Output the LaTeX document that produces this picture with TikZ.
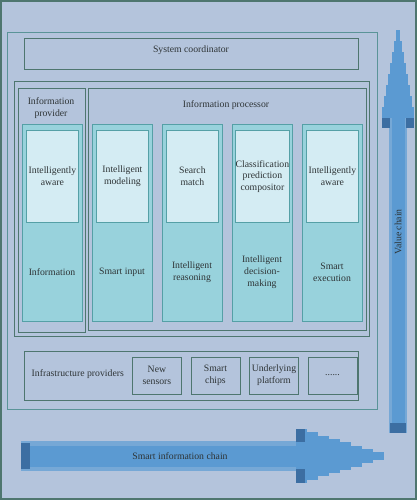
\documentclass[tikz,border=0pt]{standalone}
\usepackage{fontspec}
\setmainfont{Liberation Serif}
\usetikzlibrary{positioning, fit}

\definecolor{bgblue}{HTML}{B4C4DC}
\definecolor{framegreen}{HTML}{4E766F}
\definecolor{frameteal}{HTML}{5A9498}
\definecolor{colteal}{HTML}{98D2DC}
\definecolor{colpale}{HTML}{D4ECF3}
\definecolor{coledge}{HTML}{55A0A6}
\definecolor{chainblue}{HTML}{5B9AD2}
\definecolor{chainpale}{HTML}{76A8D6}
\definecolor{chaindark}{HTML}{3C6EA2}
\definecolor{textgrey}{HTML}{2E3436}

\begin{document}
\begin{tikzpicture}[x=0.75pt,y=-0.75pt,font=\fontsize{7.3}{8.8}\selectfont,text=textgrey,
        frame/.style={draw=framegreen,line width=0.65pt,inner sep=0pt},
        colbox/.style={fill=colteal,draw=coledge,line width=0.65pt,inner sep=0pt,minimum width=45pt,minimum height=147.75pt,anchor=north west},
        tophalf/.style={fill=colpale,draw=coledge,line width=0.65pt,inner sep=0pt,minimum width=39pt,minimum height=69pt,align=center},
        lowtext/.style={align=center},
        infra/.style={frame,minimum width=36.75pt,minimum height=27.75pt,align=center}]

        % background and border
        \fill[bgblue] (0,0) rectangle (417,500);
        \draw[framegreen,line width=1.3pt] (0.9,0.9) rectangle (416.1,499.1);

        % frames
        \node[frame,draw=frameteal,fit={(7,32) (377,409)}] (system) {};
        \node[frame,fit={(24,38) (358,69)}] (coordinator) {System coordinator};
        \node[frame,fit={(14,81) (369,336)}] (core) {};
        \node[frame,fit={(18,88) (85,332)}] (provider) {};
        \node[frame,fit={(88,88) (366,330)}] (processor) {};
        \node[align=center] (providerlabel) at (51,108) {Information\\provider};
        \node (processorlabel) at (226,105) {Information processor};

        % columns
        \foreach \i/\x/\up/\low in {1/22/{Intelligently\\aware}/{Information},
                                  2/92/{Intelligent\\modeling}/{Smart input},
                                  3/162/{Search\\match}/{Intelligent\\reasoning},
                                  4/232/{Classification\\prediction\\compositor}/{Intelligent\\decision-\\making},
                                  5/302/{Intelligently\\aware}/{Smart\\execution}} {
            \node[colbox] (col\i) at (\x,124) {};
            \node[tophalf,anchor=north] (top\i) at ([yshift=-4.5pt]col\i.north) {\up};
            \node[lowtext] (low\i) at (\x+30,272) {\low};
        }

        % infrastructure
        \node[frame,fit={(24,351) (358,400)}] (infrastructure) {};
        \node[anchor=west] (infralabel) at (27,374) {Infrastructure providers};
        \node[infra,anchor=west] (sensors) at (132,375.5) {New\\sensors};
        \node[infra,right=6.5pt of sensors] (chips) {Smart\\chips};
        \node[infra,right=6.5pt of chips] (platform) {Underlying\\platform};
        \node[infra,right=6.5pt of platform] (more) {......};

        % smart information chain
        \fill[chainpale] (21,441) rectangle (300,471);
        \fill[chainblue] (21,446) rectangle (300,467);
        \fill[chaindark] (21,443) rectangle (30,469);
        \foreach \k in {0,...,7}
            \fill[chainblue] ({296+11*\k},{456-27+3.3*\k}) rectangle ({296+11*(\k+1)},{456+27-3.3*\k});
        \fill[chaindark] (296,429) rectangle (305,442);
        \fill[chaindark] (296,469) rectangle (305,483);
        \node (infochain) at (180,456) {Smart information chain};

        % value chain
        \fill[chainpale] (389,118) rectangle (407,433);
        \fill[chainblue] (392,118) rectangle (405,433);
        \fill[chaindark] (390,423) rectangle (406,433);
        \foreach \k in {0,...,7}
            \fill[chainblue] ({398-16+2*\k},{118-11*\k}) rectangle ({398+16-2*\k},{118-11*(\k+1)});
        \fill[chaindark] (382,118) rectangle (390,128);
        \fill[chaindark] (406,118) rectangle (414,128);
        \node[rotate=90] (valuechain) at (398,232) {Value chain};
\end{tikzpicture}
\end{document}
